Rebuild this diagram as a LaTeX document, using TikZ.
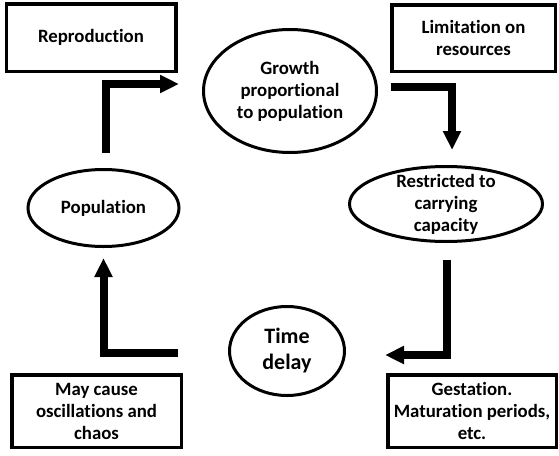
\documentclass[tikz,border=0pt]{standalone}
\usepackage{fontspec}
\setmainfont{Carlito}[Ligatures={NoCommon}]
\usetikzlibrary{arrows.meta,shapes.geometric,positioning}

\begin{document}
\begin{tikzpicture}[x=1pt,y=-1pt,
            box/.style={draw,rectangle,line width=3.5pt,inner sep=0pt,align=center,
                        font=\bfseries\fontsize{18.8}{22}\selectfont},
            oval/.style={draw,ellipse,line width=3pt,inner sep=0pt,align=center,
                        font=\bfseries\fontsize{18.8}{22}\selectfont},
            flow/.style={line width=8pt,line join=miter,
                        -{Triangle[length=19pt,width=17pt]}}]
            \useasboundingbox (0,0) rectangle (559,455);

            \node[box, minimum width=169.5pt, minimum height=67.5pt] (repro) at (91,37.5) {Reproduction};
            \node[box, minimum width=163.5pt, minimum height=66.5pt] (limit) at (473.5,38) {Limitation on\\resources};
            \node[box, minimum width=169.5pt, minimum height=72.5pt] (chaos) at (96.5,411) {May cause\\oscillations and\\chaos};
            \node[box, minimum width=168.5pt, minimum height=72.5pt] (gest)  at (472,411) {Gestation.\\Maturation periods,\\etc.};

            \node[oval, minimum width=173pt, minimum height=123pt] (grow)  at (290,91) {Growth\\proportional\\to population};
            \node[oval, minimum width=193pt, minimum height=75pt, inner ysep=-8pt] (restr) at (446,204) {Restricted to\\carrying\\capacity};
            \node[oval, minimum width=151pt, minimum height=77pt] (pop)   at (103.5,208) {Population};
            \node[oval, minimum width=115pt, minimum height=89pt,
                  font=\bfseries\fontsize{22}{26}\selectfont] (delay) at (287,351) {Time\\delay};

            % the loop
            \draw[flow] ([xshift=2pt,yshift=15pt]pop.north) |- ([xshift=-23pt,yshift=7pt]grow.west);
            \draw[flow] ([xshift=13pt,yshift=4pt]grow.east) -| ([xshift=6pt,yshift=15pt]restr.north);
            \draw[flow] ([xshift=1pt,yshift=-17pt]restr.south) |- ([xshift=39pt,yshift=-4pt]delay.east);
            \draw[flow] ([xshift=-50pt,yshift=-2pt]delay.west) -| ([yshift=-10pt]pop.south);
\end{tikzpicture}
\end{document}
